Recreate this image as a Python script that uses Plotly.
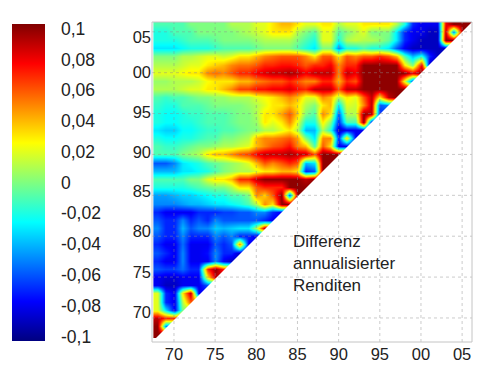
import plotly.graph_objects as go

years = list(range(1968, 2007))

# values in hundredths, row = year on y axis, columns start at 1968 and stop at the diagonal
r2006 = [-1,-1,-1,-1,0,0,0,0,0,1, 1,1,2,2,3,4,4,3,2,2, 3,3,1,2,2,3,3,3,3,1, -2,-7,-8,-8,-8,8,10,10,10]
r2005 = [-2,-2,-1,-1,-1,0,0,0,0,0, 0.5,1,1.5,2,3,3,3,1,0,-1, 2,2,-1,0,1,2,0,0,0,-3, -7,-8,-8,-9,-9,9,-5,10]
r2004 = [-2,-2,-2,-1.5,-1,-1,-1,-0.5,0,0, 0,0,0.5,1,1,1,1,0,-1,-2, 2,2,-2,1,1.5,1,1,0.5,-0.5,-3, -7,-8,-9,-9,-9,10,10]
r2003 = [-3,-3,-3,-2.5,-2,-2,-2,-1.5,-1,-1, -1,-1,-0.5,0,0,0,0,-1,-2,-3, 0,0,-5,-2,-2,-1,-2,-2,-3,-6, -8,-9,-9,-9,-9,-9]
r2002 = [0,0,0,1,1,1.5,2,2,1.5,2, 3,3,4,5,5.5,6,6,6,5,3, 6,6,3,6,5,6,6,7,6,4, -1,-4,-2,-7,-9]
r2001 = [1,1,1,1.5,2,2,3,3.5,4,5, 5.5,5.5,6,7,7,7.5,7.5,7,6,7, 7,8,5,7,7,10,10,10,10,10, 3,0,8,-9]
r2000 = [2,2,2,2.5,3,3,5,5.5,5,6, 7,7,8,8.5,9,9,9.5,9,8,9, 9,9,5,9,8,10,10,10,10,10, 10,8,10]
r1999 = [0.5,0.5,1,1,1,1.5,2.5,3,3,3, 4,4,5,5.5,6,6,7,6,5,5, 7,7,4,7,6,10,10,10,10,10, 2,-6]
r1998 = [1,1,1,1.5,2,2,3,3,4,5, 6.5,6.5,7.5,7.5,8,8,8.5,7.5,7,9, 9,9,6,9,9,10,10,10,10,10, 10]
r1997 = [-1,-1.5,-1,-1,-0.5,0,0,0.5,0.5,1, 1,1,2,2.5,3,4,5,4,2,2, 5,4,1,3,2,6,9,3,9,10]
r1996 = [-1.5,-2,-2,-1,-1,-1,-0.5,0,0,0, 0,0.5,1,2,3,3,4,3,1,0, 3,4,-3,2,1.5,5,9,-6,-5]
r1995 = [-2,-2.5,-2.5,-2,-1.5,-1.5,-1,-1,-1,-0.5, 0,0,1,3,3,4.5,6,3.5,0,-1, 5,3,-6,1,1,10,9,-7]
r1994 = [-2,-2.5,-2.5,-2,-2,-1.5,-1,-1,-1,-0.5, 0,0,0.5,3,2,3,5,2,-2,-2, 3,0,-7,-1,-1,10,-8]
r1993 = [-3,-3.5,-3.5,-2.5,-2.5,-2,-1.5,-1.5,-1,-1, -0.5,0,0,1,1,2,3,1,-4,-4, 1,-2,-9,-8,-8,-8]
r1992 = [-2,-2.5,-2.5,-2,-2,-1.5,-1,-1,0,0, 0.5,1,4,5,5,5.5,6,4.5,0,-3, 5,5,-7,3,-8]
r1991 = [-1,-1.5,-1.5,-1,-0.5,0,0,0.5,1,1, 1.5,2,4,5,6,6.5,7.5,5,4,-1, 6,3,-8,-8]
r1990 = [-1,-1,-1,0,0.5,1,3,4,4,5, 6,6.5,8,9,9,9,9.5,9,9,6, 10,10,10]
r1989 = [-6,-6,-5,-3,-2.5,-2,-1,-0.5,0,0.5, 1,2,4,6,5,6,7,6,-4,-3, 10,10]
r1988 = [-4,-4,-4,-3,-3,-2.5,-2,-1,0,0.5, 1,1,2,3,3,4,4,3,-7,-6, 10]
r1987 = [-1,-1,-1,-1,0,0,2,3,3,4, 7,7,9,10,10,10,10,10,9,10]
r1986 = [-2,-2,-2,-2,-1.5,-1,-0.5,0,0,1, 3,3,6,7,7,7,10,10,10]
r1985 = [-4.5,-4.5,-4,-3.5,-3.5,-3,-2.5,-2,-2,-1, -1,0,5,3.5,6,10,-6,10]
r1984 = [-5,-5,-5,-4.5,-4,-4,-3.5,-3,-3,-2.5, -2,-1,1,5,3,10,10]
r1983 = [-7,-8,-8,-8,-8,-7,-7,-7,-6.5,-6.5, -6,-6,-5,-5,-7,-8]
r1982 = [-6,-7,-7,-5,-7,-6,-7,-5,-6,-6, -6,-6,-6,-7,-8]
r1981 = [-5,-7,-7,-4,-6,-5,-5,-3.5,-4,-3.5, -3,-3,1,9]
r1980 = [-6,-7,-7,-5,-7,-7,-7,-5,-6,-5, -7,-7,-8]
r1979 = [-7,-8,-8,-5.5,-8,-8,-8,-6,-7,-6, 5,-8]
r1978 = [-6,-7,-8,-5,-8,-8,-7.5,-5,-7,-7, -9]
r1977 = [-7,-8,-8,-5,-8,-8,-8,-5,-8,-9]
r1976 = [-6,-6.5,-6.5,-5.5,-7,-7,7,10,7]
r1975 = [-8,-8.5,-8.5,-8,-8,-8,3,9]
r1974 = [-8,-9,-9,-8,-8,-8,-6]
r1973 = [2,-7,-8,3,9,-8]
r1972 = [2,-7,-8,1,6]
r1971 = [2,-3,-8,0]
r1970 = [9,7,7]
r1969 = [10,-5]
r1968 = [10]

rows_bottom_up = [r1968, r1969, r1970, r1971, r1972, r1973, r1974, r1975, r1976, r1977,
                  r1978, r1979, r1980, r1981, r1982, r1983, r1984, r1985, r1986, r1987,
                  r1988, r1989, r1990, r1991, r1992, r1993, r1994, r1995, r1996, r1997,
                  r1998, r1999, r2000, r2001, r2002, r2003, r2004, r2005, r2006]

grid_years = [1970, 1975, 1980, 1985, 1990, 1995, 2000, 2005]
x_labels = ["70", "75", "80", "85", "90", "95", "00", "05"]
y_labels = ["70", "75", "80", "85", "90", "95", "00", "05"]
y_label_years = [1970.7, 1975.6, 1980.6, 1985.5, 1990.3, 1995.2, 2000.1, 2004.3]

cbar_vals = [-0.1, -0.08, -0.06, -0.04, -0.02, 0, 0.02, 0.04, 0.06, 0.08, 0.1]
cbar_text = ["-0,1", "-0,08", "-0,06", "-0,04", "-0,02", "0", "0,02", "0,04", "0,06", "0,08", "0,1"]
note = "Differenz<br>annualisierter<br>Renditen"

X_RANGE = [1967.33, 2006.2]
Y_RANGE = [1967.06, 2006.2]

jet = [[0, "rgb(0,0,128)"], [0.125, "rgb(0,0,255)"], [0.375, "rgb(0,255,255)"],
       [0.625, "rgb(255,255,0)"], [0.875, "rgb(255,0,0)"], [1, "rgb(128,0,0)"]]

# hidden half of the matrix repeats the diagonal value; it sits under the white triangle
z = [[v / 100 for v in (r + [r[-1]] * (len(years) - len(r)))] for r in rows_bottom_up]

FONT = "Liberation Sans, Arial, sans-serif"
TEXT = "#222222"

fig = go.Figure(go.Heatmap(
    x=years, y=years, z=z, zsmooth="best", colorscale=jet, zmin=-0.103, zmax=0.103,
    hoverinfo="skip",
    colorbar=dict(
        xref="container", x=12 / 499, xanchor="left", thickness=33, thicknessmode="pixels",
        yref="paper", y=(342 - 182.5) / 320, yanchor="middle", len=317, lenmode="pixels",
        outlinewidth=0, xpad=0, ypad=0,
        tickmode="array", tickvals=cbar_vals, ticktext=cbar_text,
        ticks="outside", ticklen=13, tickcolor="rgba(0,0,0,0)",
        tickfont=dict(family=FONT, size=17.5, color=TEXT),
    ),
))

shapes = [dict(type="path", xref="x", yref="y", layer="above", fillcolor="white",
               line=dict(width=0),
               path=f"M {X_RANGE[0]} {Y_RANGE[0]} L {X_RANGE[1]} {Y_RANGE[0]} L {X_RANGE[1]} {Y_RANGE[1]} Z")]
grid = dict(color="rgba(140,140,140,0.45)", width=1, dash="dot")
for g in grid_years:
    shapes.append(dict(type="line", xref="x", yref="paper", x0=g, x1=g, y0=0, y1=1, layer="above", line=grid))
    shapes.append(dict(type="line", xref="paper", yref="y", x0=0, x1=1, y0=g, y1=g, layer="above", line=grid))
shapes.append(dict(type="rect", xref="paper", yref="paper", x0=0, x1=1, y0=0, y1=1, layer="above",
                   line=dict(color="#c4c4c4", width=1)))

fig.update_layout(
    width=499, height=378, margin=dict(l=152, r=27, t=22, b=36, autoexpand=False),
    paper_bgcolor="white", plot_bgcolor="white", shapes=shapes,
    font=dict(family=FONT, color=TEXT),
    xaxis=dict(range=X_RANGE, tickmode="array", tickvals=grid_years, ticktext=x_labels,
               showgrid=False, zeroline=False, ticks="", tickfont=dict(size=16.5, color=TEXT), tickangle=0),
    yaxis=dict(range=Y_RANGE, tickmode="array", tickvals=y_label_years, ticktext=y_labels,
               showgrid=False, zeroline=False, ticks="", tickfont=dict(size=16.5, color=TEXT)),
    annotations=[dict(text=note, xref="paper", yref="paper", x=(293 - 152) / 320, y=(342 - 230) / 320,
                      xanchor="left", yanchor="top", align="left", showarrow=False, xshift=-2,
                      font=dict(family=FONT, size=17, color=TEXT))],
)

fig.write_html("out.html", config={"displayModeBar": False},
               post_script="document.body.style.margin='0';")
